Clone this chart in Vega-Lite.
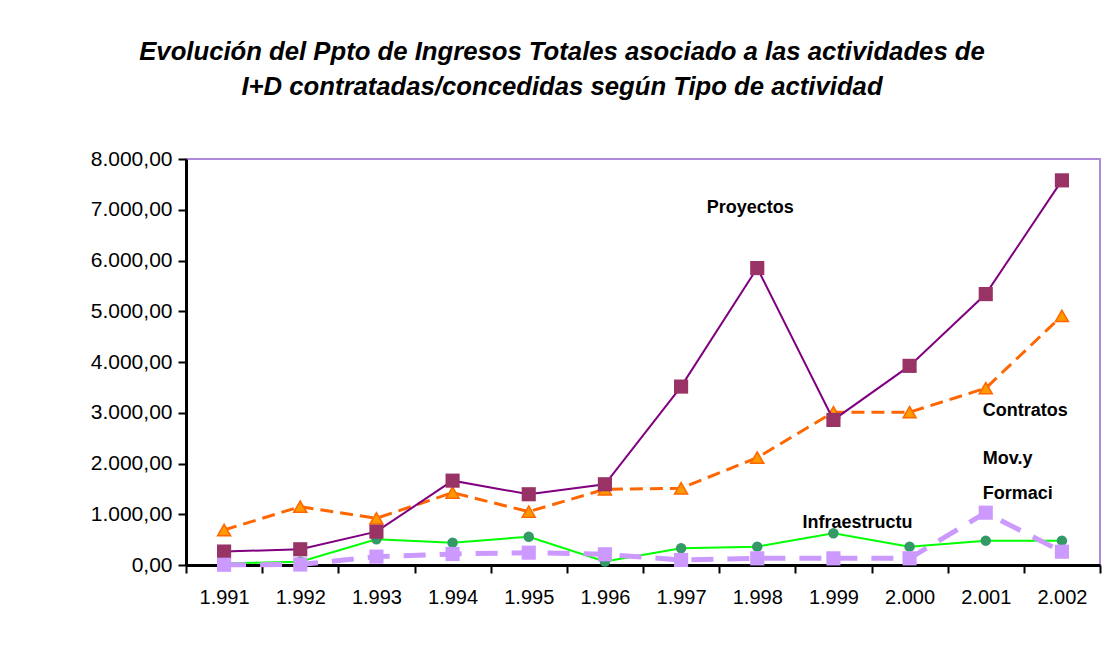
{
  "$schema": "https://vega.github.io/schema/vega-lite/v6.json",
  "width": 914,
  "height": 406,
  "autosize": "none",
  "padding": {"left": 186, "top": 159, "right": 5, "bottom": 94},
  "background": "white",
  "title": {
    "text": ["Evolución del Ppto de Ingresos Totales asociado a las actividades de", "I+D contratadas/concedidas según Tipo de actividad"],
    "font": "Liberation Sans",
    "fontSize": 25.7,
    "fontWeight": "bold",
    "fontStyle": "italic",
    "color": "black",
    "anchor": "middle",
    "frame": "group",
    "dx": -81,
    "offset": 47,
    "lineHeight": 35
  },
  "config": {
    "locale": {"number": {"decimal": ",", "thousands": ".", "grouping": [3], "currency": ["", ""]}},
    "view": {"stroke": "#B08ADA", "strokeWidth": 2},
    "font": "Liberation Sans"
  },
  "datasets": {
    "series": [
      {"year": "1.991", "serie": "Proyectos", "value": 265},
      {"year": "1.992", "serie": "Proyectos", "value": 310},
      {"year": "1.993", "serie": "Proyectos", "value": 657},
      {"year": "1.994", "serie": "Proyectos", "value": 1662},
      {"year": "1.995", "serie": "Proyectos", "value": 1394},
      {"year": "1.996", "serie": "Proyectos", "value": 1591},
      {"year": "1.997", "serie": "Proyectos", "value": 3516},
      {"year": "1.998", "serie": "Proyectos", "value": 5851},
      {"year": "1.999", "serie": "Proyectos", "value": 2859},
      {"year": "2.000", "serie": "Proyectos", "value": 3924},
      {"year": "2.001", "serie": "Proyectos", "value": 5338},
      {"year": "2.002", "serie": "Proyectos", "value": 7579},
      {"year": "1.991", "serie": "Contratos", "value": 690},
      {"year": "1.992", "serie": "Contratos", "value": 1150},
      {"year": "1.993", "serie": "Contratos", "value": 920},
      {"year": "1.994", "serie": "Contratos", "value": 1426},
      {"year": "1.995", "serie": "Contratos", "value": 1051},
      {"year": "1.996", "serie": "Contratos", "value": 1493},
      {"year": "1.997", "serie": "Contratos", "value": 1512},
      {"year": "1.998", "serie": "Contratos", "value": 2116},
      {"year": "1.999", "serie": "Contratos", "value": 3011},
      {"year": "2.000", "serie": "Contratos", "value": 3011},
      {"year": "2.001", "serie": "Contratos", "value": 3484},
      {"year": "2.002", "serie": "Contratos", "value": 4910},
      {"year": "1.991", "serie": "Infraestructura", "value": 33},
      {"year": "1.992", "serie": "Infraestructura", "value": 65},
      {"year": "1.993", "serie": "Infraestructura", "value": 506},
      {"year": "1.994", "serie": "Infraestructura", "value": 440},
      {"year": "1.995", "serie": "Infraestructura", "value": 558},
      {"year": "1.996", "serie": "Infraestructura", "value": 70},
      {"year": "1.997", "serie": "Infraestructura", "value": 329},
      {"year": "1.998", "serie": "Infraestructura", "value": 362},
      {"year": "1.999", "serie": "Infraestructura", "value": 625},
      {"year": "2.000", "serie": "Infraestructura", "value": 362},
      {"year": "2.001", "serie": "Infraestructura", "value": 480},
      {"year": "2.002", "serie": "Infraestructura", "value": 480},
      {"year": "1.991", "serie": "Mov.y Formación", "value": 5},
      {"year": "1.992", "serie": "Mov.y Formación", "value": 10},
      {"year": "1.993", "serie": "Mov.y Formación", "value": 165},
      {"year": "1.994", "serie": "Mov.y Formación", "value": 217},
      {"year": "1.995", "serie": "Mov.y Formación", "value": 243},
      {"year": "1.996", "serie": "Mov.y Formación", "value": 211},
      {"year": "1.997", "serie": "Mov.y Formación", "value": 99},
      {"year": "1.998", "serie": "Mov.y Formación", "value": 131},
      {"year": "1.999", "serie": "Mov.y Formación", "value": 131},
      {"year": "2.000", "serie": "Mov.y Formación", "value": 131},
      {"year": "2.001", "serie": "Mov.y Formación", "value": 1031},
      {"year": "2.002", "serie": "Mov.y Formación", "value": 262}
    ],
    "labels": [
      {"year": "1.998", "value": 7040, "text": "Proyectos"},
      {"year": "2.001", "value": 3037, "text": "Contratos"},
      {"year": "2.001", "value": 2090, "text": "Mov.y"},
      {"year": "2.001", "value": 1400, "text": "Formaci"},
      {"year": "1.999", "value": 828, "text": "Infraestructu"}
    ]
  },
  "encoding": {
    "x": {
      "field": "year", "type": "ordinal", "sort": null,
      "scale": {"paddingInner": 0, "paddingOuter": 0},
      "axis": {
        "title": null, "labelAngle": 0, "tickBand": "extent",
        "labelFont": "Liberation Sans", "labelFontSize": 20, "labelColor": "black",
        "labelPadding": 14, "tickSize": 8, "tickColor": "black", "tickWidth": 2,
        "domainColor": "black", "domainWidth": 3, "grid": false
      }
    },
    "y": {
      "field": "value", "type": "quantitative",
      "scale": {"domain": [0, 8000], "nice": false},
      "axis": {
        "title": null, "values": [0, 1000, 2000, 3000, 4000, 5000, 6000, 7000, 8000],
        "format": ",.2f", "labelFont": "Liberation Sans", "labelFontSize": 21, "labelColor": "black",
        "labelPadding": 6, "tickSize": 8, "tickColor": "black", "tickWidth": 2,
        "domainColor": "black", "domainWidth": 3, "grid": false
      }
    }
  },
  "layer": [
    {
      "data": {"name": "series"},
      "transform": [{"filter": "datum.serie === 'Infraestructura'"}],
      "mark": {"type": "line", "color": "#00FF00", "strokeWidth": 2}
    },
    {
      "data": {"name": "series"},
      "transform": [{"filter": "datum.serie === 'Infraestructura'"}],
      "mark": {"type": "point", "shape": "circle", "filled": true, "color": "#339966", "opacity": 1, "size": 110}
    },
    {
      "data": {"name": "series"},
      "transform": [{"filter": "datum.serie === 'Contratos'"}],
      "mark": {"type": "line", "color": "#FF6600", "strokeWidth": 3, "strokeDash": [13, 7]}
    },
    {
      "data": {"name": "series"},
      "transform": [{"filter": "datum.serie === 'Contratos'"}],
      "mark": {"type": "point", "shape": "triangle-up", "filled": true, "fill": "#FF9900", "stroke": "#FF6600", "strokeWidth": 1.5, "opacity": 1, "size": 170}
    },
    {
      "data": {"name": "series"},
      "transform": [{"filter": "datum.serie === 'Proyectos'"}],
      "mark": {"type": "line", "color": "#800080", "strokeWidth": 2}
    },
    {
      "data": {"name": "series"},
      "transform": [{"filter": "datum.serie === 'Proyectos'"}],
      "mark": {"type": "point", "shape": "square", "filled": true, "color": "#993366", "opacity": 1, "size": 200}
    },
    {
      "data": {"name": "series"},
      "transform": [{"filter": "datum.serie === 'Mov.y Formación'"}],
      "mark": {"type": "line", "color": "#CC99FF", "strokeWidth": 5, "strokeDash": [22, 14]}
    },
    {
      "data": {"name": "series"},
      "transform": [{"filter": "datum.serie === 'Mov.y Formación'"}],
      "mark": {"type": "point", "shape": "square", "filled": true, "color": "#CC99FF", "opacity": 1, "size": 200}
    },
    {
      "data": {"name": "labels"},
      "transform": [{"filter": "datum.text === 'Proyectos'"}],
      "mark": {"type": "text", "align": "center", "baseline": "middle", "dx": -7, "font": "Liberation Sans", "fontSize": 18, "fontWeight": "bold", "color": "black"},
      "encoding": {"text": {"field": "text"}}
    },
    {
      "data": {"name": "labels"},
      "transform": [{"filter": "datum.text !== 'Proyectos' && datum.text !== 'Infraestructu'"}],
      "mark": {"type": "text", "align": "left", "baseline": "middle", "dx": -3, "font": "Liberation Sans", "fontSize": 18, "fontWeight": "bold", "color": "black"},
      "encoding": {"text": {"field": "text"}}
    },
    {
      "data": {"name": "labels"},
      "transform": [{"filter": "datum.text === 'Infraestructu'"}],
      "mark": {"type": "text", "align": "left", "baseline": "middle", "dx": -31, "font": "Liberation Sans", "fontSize": 18, "fontWeight": "bold", "color": "black"},
      "encoding": {"text": {"field": "text"}}
    }
  ]
}
